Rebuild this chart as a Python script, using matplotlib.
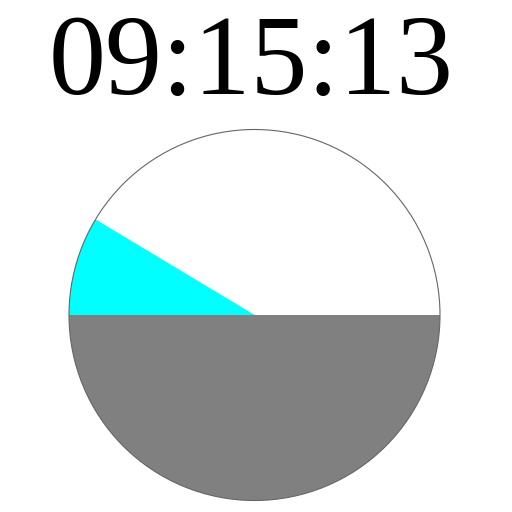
import matplotlib
matplotlib.use('Agg')
import matplotlib.pyplot as plt
from matplotlib.patches import Wedge, Circle

# Clock reading shown in the title
time_label = '09:15:13'

# Filled part of the dial, in degrees (counter-clockwise from 3 o'clock)
filled_start = 149.0
filled_end = 180.0

# Lower half of the dial is always shaded
lower_start = 180.0
lower_end = 360.0

fig = plt.figure(figsize=(5.12, 5.12), dpi=100)
ax = fig.add_axes([0, 0, 1, 1])

# Unit circle placed so that its centre sits at (254.5, 315) px, radius 185.5 px
r_px = 185.5
cx_px, cy_px = 254.5, 315.0
ax.set_xlim(-cx_px / r_px, (512 - cx_px) / r_px)
ax.set_ylim(-(512 - cy_px) / r_px, cy_px / r_px)
ax.axis('off')

ax.add_patch(Wedge((0, 0), 1, lower_start, lower_end,
                   facecolor='#808080', edgecolor='none'))
ax.add_patch(Wedge((0, 0), 1, filled_start, filled_end,
                   facecolor='#00ffff', edgecolor='none'))
ax.add_patch(Circle((0, 0), 1, facecolor='none',
                    edgecolor='#666666', linewidth=0.8))

fig.text(0.491, 1 - 94 / 512, time_label, ha='center', va='baseline',
         fontsize=82, family='Liberation Serif', color='black')

fig.savefig('out.png', dpi=100, facecolor='white')
